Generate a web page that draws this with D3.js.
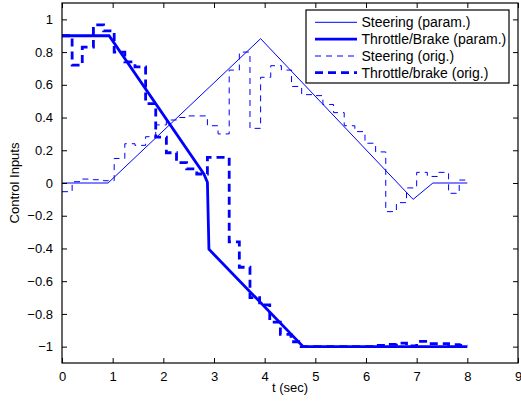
<!DOCTYPE html>
<html>
<head>
<meta charset="utf-8">
<script src="https://cdn.jsdelivr.net/npm/d3@7"></script>
<style>
  html, body { margin: 0; padding: 0; background: #fff; }
  svg { display: block; font-family: "Liberation Sans", Arial, Helvetica, sans-serif; }
</style>
</head>
<body>
<svg id="chart" width="521" height="405"></svg>
<script>
// Parametrised inputs (piecewise linear breakpoints)
const steerParamT = [0, 0.91, 3.92, 6.93, 7.32, 8.0];
const steerParamV = [0, 0, 0.882, -0.10, 0, 0];

const throttleParamT = [0, 0.93, 2.80, 2.87, 2.90, 4.76, 8.0];
const throttleParamV = [0.9, 0.9, 0.055, 0.005, -0.405, -1.0, -1.0];

// Original inputs (zero-order hold: each value holds until the next time)
const steerOrigT = [0, 0.2, 0.4, 0.62, 0.82, 1.03, 1.24, 1.44, 1.65, 1.85, 2.06, 2.26, 2.46, 2.66,
                    2.87, 3.08, 3.30, 3.50, 3.71, 3.92, 4.12, 4.33, 4.53, 4.73, 4.94, 5.15, 5.36,
                    5.57, 5.78, 5.98, 6.19, 6.39, 6.60, 6.80, 7.00, 7.21, 7.42, 7.63, 7.84, 8.0];
const steerOrigV = [-0.053, 0.008, 0.024, 0.020, 0.014, 0.15, 0.24, 0.23, 0.283, 0.355, 0.385, 0.40, 0.41, 0.41,
                    0.35, 0.30, 0.69, 0.80, 0.334, 0.646, 0.717, 0.69, 0.59, 0.54, 0.534, 0.48, 0.43,
                    0.35, 0.314, 0.243, 0.19, -0.175, -0.12, -0.03, 0.065, 0.04, 0.065, -0.063, 0.018, 0.018];

const throttleOrigT = [0, 0.2, 0.4, 0.62, 0.82, 1.03, 1.24, 1.44, 1.65, 1.85, 2.06, 2.26, 2.46, 2.66,
                       2.87, 3.08, 3.30, 3.50, 3.71, 3.90, 4.10, 4.31, 4.52, 4.72, 6.19, 6.39, 6.60,
                       6.80, 7.00, 7.21, 7.42, 7.63, 7.84, 8.0];
const throttleOrigV = [0.90, 0.72, 0.83, 0.966, 0.93, 0.80, 0.74, 0.71, 0.485, 0.28, 0.185, 0.124, 0.086, 0.055,
                       0.157, 0.157, -0.36, -0.515, -0.70, -0.745, -0.85, -0.925, -0.97, -1.0, -0.992, -0.986, -0.978,
                       -0.996, -0.968, -0.982, -0.982, -0.988, -0.992, -0.992];

const xTicks = [0, 1, 2, 3, 4, 5, 6, 7, 8, 9];
const yTicks = [-1, -0.8, -0.6, -0.4, -0.2, 0, 0.2, 0.4, 0.6, 0.8, 1];

const legendLabels = ["Steering (param.)", "Throttle/Brake (param.)", "Steering (orig.)", "Throttle/brake (orig.)"];

const blue = "#0000ff";
const svg = d3.select("#chart");

const plot = { left: 62, right: 518, top: 3, bottom: 363 };
const x = d3.scaleLinear().domain([0, 9]).range([plot.left, plot.right]);
const y = d3.scaleLinear().domain([-1.1, 1.1]).range([plot.bottom, plot.top]);

const zip = (ts, vs) => ts.map((t, i) => [t, vs[i]]);

svg.append("defs").append("clipPath").attr("id", "plotClip")
  .append("rect").attr("x", plot.left).attr("y", plot.top)
  .attr("width", plot.right - plot.left).attr("height", plot.bottom - plot.top);

const linear = d3.line().x(d => x(d[0])).y(d => y(d[1]));
const stairs = d3.line().x(d => x(d[0])).y(d => y(d[1])).curve(d3.curveStepAfter);

const styles = [
  { width: 1, dash: null },
  { width: 2.8, dash: null },
  { width: 1, dash: "6,5" },
  { width: 2.8, dash: "8,5" }
];

const series = [
  { data: zip(steerParamT, steerParamV), gen: linear, style: styles[0] },
  { data: zip(throttleParamT, throttleParamV), gen: linear, style: styles[1] },
  { data: zip(steerOrigT, steerOrigV), gen: stairs, style: styles[2] },
  { data: zip(throttleOrigT, throttleOrigV), gen: stairs, style: styles[3] }
];

const g = svg.append("g").attr("clip-path", "url(#plotClip)");
series.forEach(s => {
  g.append("path")
    .attr("d", s.gen(s.data))
    .attr("fill", "none")
    .attr("stroke", blue)
    .attr("stroke-width", s.style.width)
    .attr("stroke-dasharray", s.style.dash)
    .attr("stroke-linejoin", "miter");
});

// Axes with inward ticks on all four sides
const tickLen = 5;
const fmt = v => (v < 0 ? "\u2212" : "") + d3.format("~g")(Math.abs(v));

const bottomAxis = d3.axisBottom(x).tickValues(xTicks).tickSizeInner(-tickLen).tickSizeOuter(0).tickPadding(9);
const topAxis = d3.axisTop(x).tickValues(xTicks).tickSizeInner(-tickLen).tickSizeOuter(0).tickFormat("");
const leftAxis = d3.axisLeft(y).tickValues(yTicks).tickSizeInner(-tickLen).tickSizeOuter(0).tickPadding(9).tickFormat(fmt);
const rightAxis = d3.axisRight(y).tickValues(yTicks).tickSizeInner(-tickLen).tickSizeOuter(0).tickFormat("");

function styleAxis(sel) {
  sel.select(".domain").remove();
  sel.selectAll(".tick line").attr("stroke", "#000").attr("stroke-width", 1);
  sel.selectAll(".tick text").attr("fill", "#000").style("font-size", "13px")
    .style("font-family", "'Liberation Sans', Arial, sans-serif");
}
svg.append("g").attr("transform", `translate(0,${plot.bottom})`).call(bottomAxis).call(styleAxis);
svg.append("g").attr("transform", `translate(0,${plot.top})`).call(topAxis).call(styleAxis);
svg.append("g").attr("transform", `translate(${plot.left},0)`).call(leftAxis).call(styleAxis);
svg.append("g").attr("transform", `translate(${plot.right},0)`).call(rightAxis).call(styleAxis);

svg.append("rect")
  .attr("x", plot.left).attr("y", plot.top)
  .attr("width", plot.right - plot.left).attr("height", plot.bottom - plot.top)
  .attr("fill", "none").attr("stroke", "#000").attr("stroke-width", 1.2);

// Axis titles
svg.append("text")
  .attr("x", x(4.5)).attr("y", 392)
  .attr("text-anchor", "middle").style("font-size", "13px")
  .text("t (sec)");

svg.append("text")
  .attr("transform", `translate(19,${y(0)}) rotate(-90)`)
  .attr("text-anchor", "middle").style("font-size", "13px")
  .text("Control Inputs");

// Legend
const leg = { x: 306, y: 10, w: 203, h: 73 };
const lg = svg.append("g");
lg.append("rect").attr("x", leg.x).attr("y", leg.y).attr("width", leg.w).attr("height", leg.h)
  .attr("fill", "#fff").attr("stroke", "#000").attr("stroke-width", 1.2);
const rowY = [22.3, 39.2, 56, 72.7];
legendLabels.forEach((lab, i) => {
  lg.append("line")
    .attr("x1", 315).attr("x2", 357).attr("y1", rowY[i]).attr("y2", rowY[i])
    .attr("stroke", blue).attr("stroke-width", styles[i].width)
    .attr("stroke-dasharray", styles[i].dash);
  lg.append("text")
    .attr("x", 361.5).attr("y", rowY[i] + 5)
    .style("font-size", "14px")
    .text(lab);
});
</script>
</body>
</html>
